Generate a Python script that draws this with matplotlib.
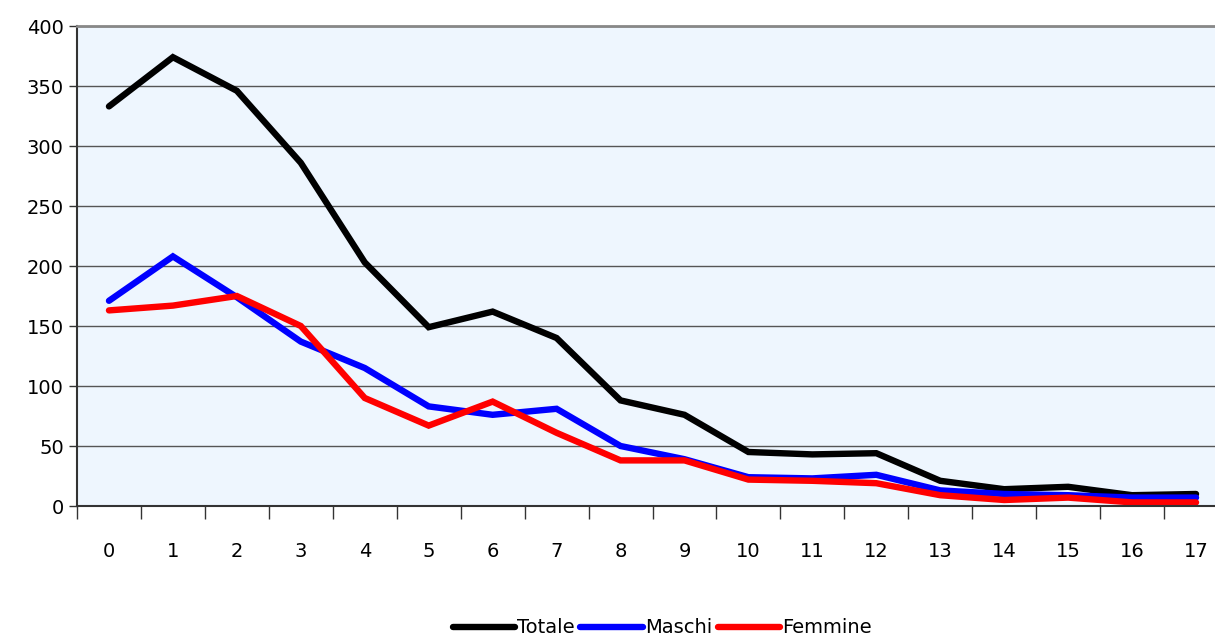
import numpy as np
import matplotlib.pyplot as plt

eta = [str(i) for i in range(18)]
totale = [333, 374, 346, 286, 203, 149, 162, 140, 88, 76, 45, 43, 44, 21, 14, 16, 9, 10]
maschi = [171, 208, 174, 137, 115, 83, 76, 81, 50, 39, 24, 23, 26, 13, 10, 9, 7, 7]
femmine = [163, 167, 175, 150, 90, 67, 87, 61, 38, 38, 22, 21, 19, 9, 5, 7, 3, 3]

plt.rcParams['font.family'] = ['DejaVu Sans']

fig = plt.figure(figsize=(12.15, 6.37), dpi=100)
ax = fig.add_axes([77 / 1215, 1 - 506 / 637, 1151 / 1215, 480 / 637])
ax.set_facecolor('#eef6fe')

x = np.arange(len(eta))
style = dict(lw=4.6, solid_joinstyle='miter', solid_capstyle='round')
ax.plot(x, totale, color='black', label='Totale', **style)
ax.plot(x, maschi, color='#0000ff', label='Maschi', **style)
ax.plot(x, femmine, color='#ff0000', label='Femmine', **style)

ax.set_xlim(-0.5, 17.5)
ax.set_ylim(0, 400)
ax.set_yticks(range(0, 401, 50))
ax.yaxis.grid(True, color='#555555', lw=1)
ax.set_axisbelow(True)

ax.set_xticks(x)
ax.set_xticklabels(eta)
ax.set_xticks(np.arange(-0.5, 17.6, 1), minor=True)
ax.tick_params(axis='x', which='major', length=0, pad=26, labelsize=14)
ax.tick_params(axis='x', which='minor', length=9, width=1, color='#333333')
ax.tick_params(axis='y', length=6, width=1, color='#333333', labelsize=14)

ax.spines['right'].set_visible(False)
ax.spines['top'].set_color('#888888')
ax.spines['top'].set_linewidth(2)
ax.spines['left'].set_color('#333333')
ax.spines['bottom'].set_color('#333333')
ax.spines['left'].set_linewidth(1.5)
ax.spines['bottom'].set_linewidth(1.5)

fig.legend(loc='lower center', bbox_to_anchor=(0.545, -0.028), ncol=3, frameon=False,
           fontsize=14, handlelength=3.2, handletextpad=0.1, columnspacing=0.3)

fig.savefig('out.png', dpi=100)
